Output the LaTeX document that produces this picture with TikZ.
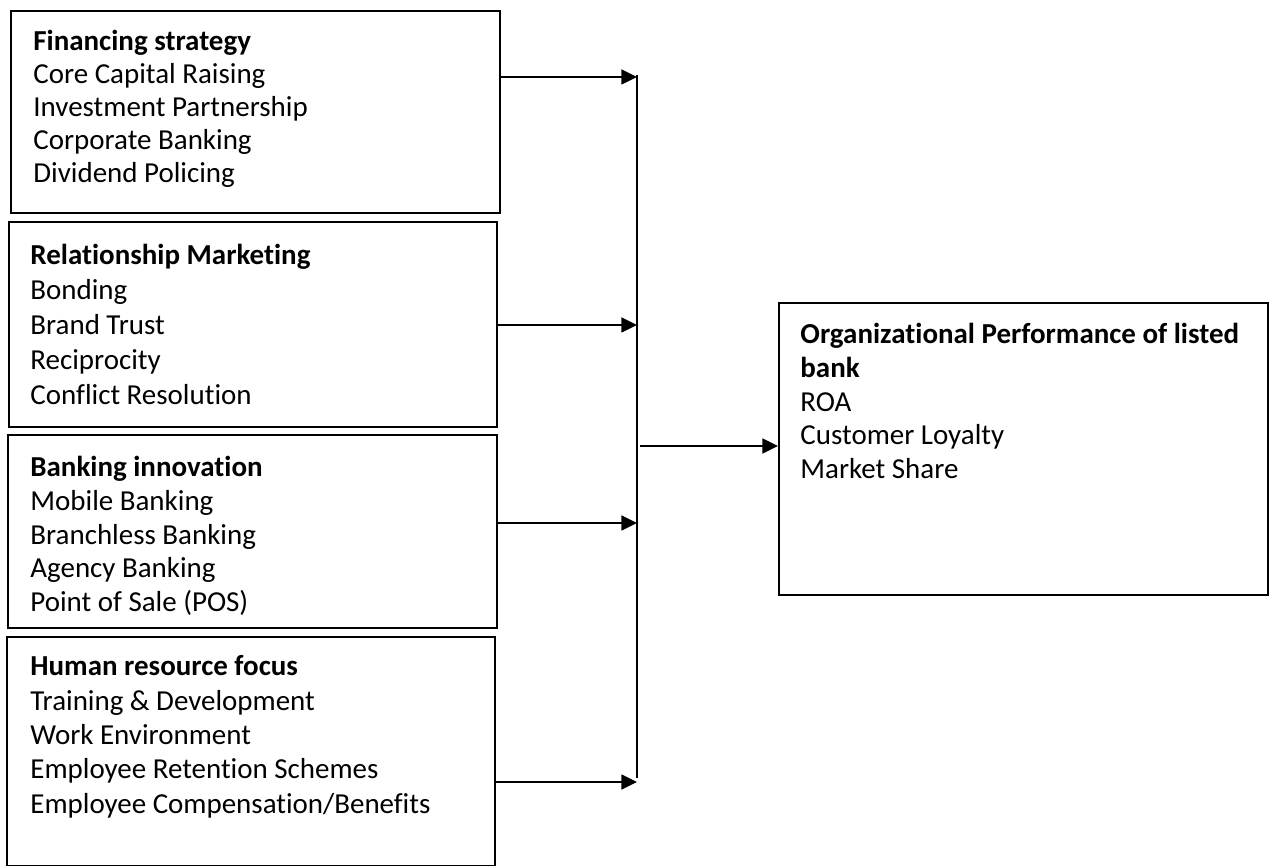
\documentclass[tikz,border=0pt]{standalone}
\usepackage{fontspec}
\setmainfont{Carlito}[Ligatures=NoCommon]
\usetikzlibrary{fit,arrows.meta}
\begin{document}
\begin{tikzpicture}[x=0.48pt,y=-0.48pt,
  box/.style={draw=black,line width=0.9pt,inner sep=0pt},
  txt/.style={anchor=north west,inner sep=0pt,align=left,font=\fontsize{13.9}{#1}\selectfont},
  txt/.default=16.2,
  arr/.style={line width=1.3pt,-{Triangle[length=7.5pt,width=7pt]}},
  bus/.style={line width=1pt}]
\useasboundingbox (0,0) rectangle (1269,866);
% boxes
\node[box,fit={(11,11)(500,213)}] (b1) {};
\node[box,fit={(9,222)(497,427)}] (b2) {};
\node[box,fit={(8,435)(497,628)}] (b3) {};
\node[box,fit={(7,637)(495,866)}] (b4) {};
\node[box,fit={(779,303)(1268,595)}] (org) {};
% texts
\node[txt=15.85] (t1) at (33,30) {\textbf{Financing strategy}\\Core Capital Raising\\Investment Partnership\\Corporate Banking\\Dividend Policing};
\node[txt=16.8] (t2) at (30,244) {\textbf{Relationship Marketing}\\Bonding\\Brand Trust\\Reciprocity\\Conflict Resolution};
\node[txt=16.2] (t3) at (30,456) {\textbf{Banking innovation}\\Mobile Banking\\Branchless Banking\\Agency Banking\\Point of Sale (POS)};
\node[txt=16.55] (t4) at (30,655) {\textbf{Human resource focus}\\Training \& Development\\Work Environment\\Employee Retention Schemes\\Employee Compensation/Benefits};
\node[txt=16.2] (t5) at (800,323) {\textbf{Organizational Performance of listed}\\\textbf{bank}\\ROA\\Customer Loyalty\\Market Share};
% bus junctions
\coordinate (j1) at (637,77);
\coordinate (j2) at (637,325);
\coordinate (j3) at (637,523);
\coordinate (j4) at (637,782);
\coordinate (jt) at (637,75);
\coordinate (jb) at (637,778);
\coordinate (jo) at (640,446);
\draw[bus] (jt) -- (jb);
\draw[arr] (b1.east |- j1) -- (j1);
\draw[arr] (b2.east |- j2) -- (j2);
\draw[arr] (b3.east |- j3) -- (j3);
\draw[arr] (b4.east |- j4) -- (j4);
\draw[arr] (jo) -- (org.west |- jo);
\end{tikzpicture}
\end{document}
